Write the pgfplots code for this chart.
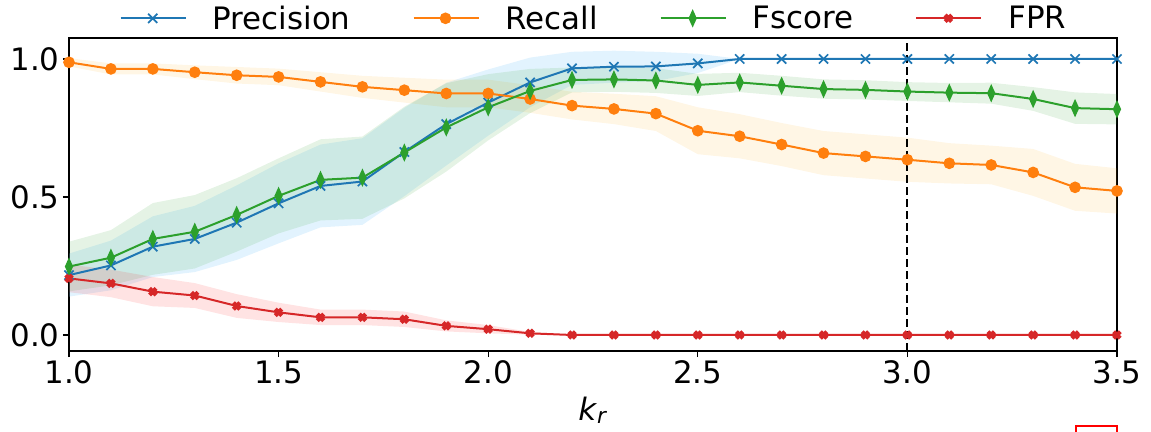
\documentclass[border=0pt]{standalone}
\usepackage{fontspec}
\setmainfont{DejaVu Sans}
\usepackage{pgfplots}
\usepackage{pgfplotstable}
\pgfplotsset{compat=1.18}
\usepgfplotslibrary{fillbetween}

\definecolor{tblue}{HTML}{1F77B4}
\definecolor{torange}{HTML}{FF7F0E}
\definecolor{tgreen}{HTML}{2CA02C}
\definecolor{tred}{HTML}{D62728}
\definecolor{skyb}{RGB}{135,206,250}
\definecolor{orangeb}{RGB}{255,165,0}

\pgfplotstableread{
x   P     Ps    R     Rs    F     Fs    E     Es
1.0 0.217 0.078 0.988 0.015 0.248 0.090 0.205 0.050
1.1 0.252 0.090 0.964 0.020 0.280 0.100 0.187 0.050
1.2 0.320 0.110 0.964 0.020 0.348 0.130 0.157 0.053
1.3 0.348 0.120 0.952 0.025 0.374 0.133 0.143 0.045
1.4 0.407 0.135 0.941 0.030 0.435 0.133 0.105 0.043
1.5 0.477 0.145 0.935 0.030 0.504 0.136 0.082 0.035
1.6 0.540 0.150 0.917 0.035 0.562 0.147 0.064 0.028
1.7 0.556 0.157 0.899 0.040 0.570 0.149 0.064 0.028
1.8 0.663 0.160 0.887 0.045 0.661 0.166 0.057 0.028
1.9 0.764 0.150 0.875 0.050 0.752 0.160 0.033 0.020
2.0 0.842 0.120 0.875 0.050 0.825 0.120 0.021 0.015
2.1 0.915 0.090 0.855 0.050 0.884 0.080 0.006 0.005
2.2 0.966 0.060 0.831 0.050 0.924 0.045 0.000 0.000
2.3 0.972 0.058 0.819 0.055 0.926 0.045 0.000 0.000
2.4 0.973 0.053 0.802 0.063 0.922 0.045 0.000 0.000
2.5 0.984 0.035 0.740 0.085 0.906 0.040 0.000 0.000
2.6 1.000 0.000 0.720 0.080 0.915 0.035 0.000 0.000
2.7 1.000 0.000 0.690 0.078 0.903 0.036 0.000 0.000
2.8 1.000 0.000 0.659 0.080 0.891 0.035 0.000 0.000
2.9 1.000 0.000 0.647 0.080 0.888 0.035 0.000 0.000
3.0 1.000 0.000 0.635 0.080 0.882 0.034 0.000 0.000
3.1 1.000 0.000 0.622 0.073 0.878 0.035 0.000 0.000
3.2 1.000 0.000 0.616 0.070 0.876 0.038 0.000 0.000
3.3 1.000 0.000 0.589 0.085 0.855 0.043 0.000 0.000
3.4 1.000 0.000 0.535 0.085 0.822 0.057 0.000 0.000
3.5 1.000 0.000 0.522 0.082 0.818 0.055 0.000 0.000
}\data

\begin{document}
\begin{tikzpicture}
\begin{axis}[
  name=ax, at={(0,0)}, anchor=south west,
  scale only axis, width=1048bp, height=313bp,
  xmin=1.0, xmax=3.5, ymin=-0.058, ymax=1.076,
  xtick={1.0,1.5,2.0,2.5,3.0,3.5}, ytick={0,0.5,1},
  xticklabel style={/pgf/number format/.cd,fixed,fixed zerofill,precision=1},
  yticklabel style={/pgf/number format/.cd,fixed,fixed zerofill,precision=1},
  /pgf/number format/assume math mode=true,
  tick align=outside, xtick pos=bottom, ytick pos=left,
  major tick length=6bp,
  every tick/.style={black, line width=1.2bp},
  axis line style={line width=1.2bp},
  tick label style={font=\fontsize{31}{36}\selectfont},
  xlabel={\textit{k}\textsubscript{\textit{r}}},
  xlabel style={font=\fontsize{31}{36}\selectfont, yshift=-6bp},
  legend columns=4,
  legend style={at={(0.5,1)}, anchor=south, draw=none, fill=none,
    font=\fontsize{31}{36}\selectfont, yshift=3bp,
    nodes={inner xsep=0pt},
    /tikz/every odd column/.append style={column sep=26bp},
    /tikz/every even column/.append style={column sep=62bp}},
  legend image code/.code={\draw[mark repeat=2,mark phase=2] plot coordinates {(0bp,0bp) (32bp,0bp) (65bp,0bp)};},
  clip=true,
]
% band boundaries
\addplot[draw=none, forget plot, name path=Pu] table[x=x, y expr=\thisrow{P}+\thisrow{Ps}] {\data};
\addplot[draw=none, forget plot, name path=Pl] table[x=x, y expr=\thisrow{P}-\thisrow{Ps}] {\data};
\addplot[draw=none, forget plot, name path=Ru] table[x=x, y expr=\thisrow{R}+\thisrow{Rs}] {\data};
\addplot[draw=none, forget plot, name path=Rl] table[x=x, y expr=\thisrow{R}-\thisrow{Rs}] {\data};
\addplot[draw=none, forget plot, name path=Fu] table[x=x, y expr=\thisrow{F}+\thisrow{Fs}] {\data};
\addplot[draw=none, forget plot, name path=Fl] table[x=x, y expr=\thisrow{F}-\thisrow{Fs}] {\data};
\addplot[draw=none, forget plot, name path=Eu] table[x=x, y expr=\thisrow{E}+\thisrow{Es}] {\data};
\addplot[draw=none, forget plot, name path=El] table[x=x, y expr=\thisrow{E}-\thisrow{Es}] {\data};
\addplot[skyb, fill opacity=0.24, draw=none, forget plot] fill between[of=Pu and Pl];
\addplot[orangeb, fill opacity=0.10, draw=none, forget plot] fill between[of=Ru and Rl];
\addplot[tgreen, fill opacity=0.12, draw=none, forget plot] fill between[of=Fu and Fl];
\addplot[red, fill opacity=0.11, draw=none, forget plot] fill between[of=Eu and El];
% vertical line
\addplot[black, line width=2.2bp, dash pattern=on 8bp off 4bp, forget plot] coordinates {(3.0,-0.058) (3.0,1.076)};
% series
\addplot[tblue, line width=2bp, mark=x, mark size=6.5bp, mark options={line width=1.7bp, solid}] table[x=x, y=P] {\data};
\addlegendentry{Precision}
\addplot[torange, line width=2bp, mark=*, mark size=4.8bp, mark options={solid, fill=torange}] table[x=x, y=R] {\data};
\addlegendentry{Recall}
\addplot[tgreen, line width=2bp, mark=diamond*, mark size=6.8bp, mark options={solid, fill=tgreen, xscale=0.6}] table[x=x, y=F] {\data};
\addlegendentry{Fscore}
\addplot[tred, line width=2bp, mark=x, mark size=4.6bp, mark options={solid, line width=4.2bp}] table[x=x, y=E] {\data};
\addlegendentry{FPR}
\end{axis}
\draw[red, line width=2bp] ([shift={(1007bp,-75bp)}]ax.south west) rectangle ([shift={(1048bp,-95bp)}]ax.south west);
\pgfresetboundingbox
\path ([shift={(-69bp,-81bp)}]ax.south west) rectangle ([shift={(1082bp,351bp)}]ax.south west);
\end{tikzpicture}
\end{document}
